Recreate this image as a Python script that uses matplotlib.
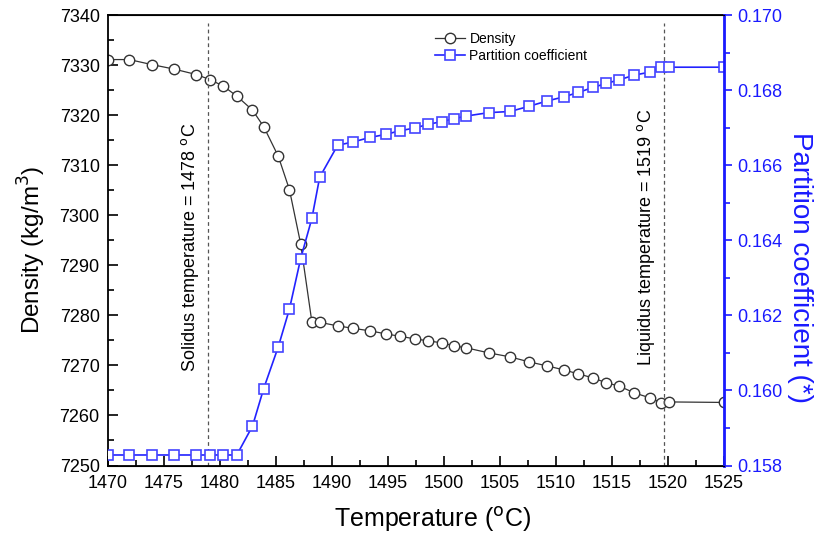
import matplotlib
matplotlib.use("Agg")
import matplotlib.pyplot as plt
from matplotlib.ticker import MultipleLocator, FormatStrFormatter

plt.rcParams['font.family'] = ['Liberation Sans', 'DejaVu Sans']

# temperature of each simulation point (deg C)
temperature = [1470.0, 1471.9, 1473.9, 1475.9, 1477.9, 1479.1, 1480.3, 1481.5,
               1482.9, 1483.9, 1485.2, 1486.2, 1487.2, 1488.2, 1488.9, 1490.5,
               1491.9, 1493.4, 1494.8, 1496.1, 1497.4, 1498.6, 1499.8, 1500.9,
               1502.0, 1504.0, 1505.9, 1507.6, 1509.2, 1510.7, 1512.0, 1513.3,
               1514.5, 1515.6, 1517.0, 1518.4, 1519.4, 1520.1, 1525.0]

density = [7331.1, 7331.1, 7330.1, 7329.2, 7328.1, 7327.1, 7325.8, 7323.8,
           7321.0, 7317.7, 7311.8, 7305.1, 7294.3, 7278.7, 7278.6, 7277.9,
           7277.4, 7276.9, 7276.3, 7275.8, 7275.3, 7274.9, 7274.5, 7273.9,
           7273.5, 7272.5, 7271.7, 7270.7, 7269.9, 7269.1, 7268.3, 7267.5,
           7266.5, 7265.9, 7264.5, 7263.5, 7262.5, 7262.7, 7262.6]

partition = [0.15828, 0.15828, 0.15828, 0.15828, 0.15828, 0.15828, 0.15828, 0.15828,
             0.15905, 0.16005, 0.16116, 0.16217, 0.16351, 0.16458, 0.16568, 0.16653,
             0.16662, 0.16674, 0.16682, 0.16692, 0.16699, 0.16709, 0.16716, 0.16724,
             0.16731, 0.16740, 0.16743, 0.16757, 0.16771, 0.16782, 0.16794, 0.16807,
             0.16818, 0.16827, 0.16840, 0.16848, 0.16861, 0.16861, 0.16861]

solidus_T = 1478.9
liquidus_T = 1519.6

fig = plt.figure(figsize=(8.2, 5.44), dpi=100)
ax = fig.add_axes([0.1317, 0.1443, 0.7513, 0.8281])
ax2 = ax.twinx()

l1, = ax.plot(temperature, density, '-o', color='#333333', lw=0.9,
              mfc='white', mec='#333333', ms=7.5, mew=1.0, label='Density')
l2, = ax2.plot(temperature, partition, '-s', color='#2222ff', lw=1.2,
               mfc='white', mec='#4444ff', ms=7, mew=1.2, label='Partition coefficient')

# solidus / liquidus markers
ax.vlines([solidus_T, liquidus_T], 7250, 7338.5, colors='#555555',
          linestyles=(0, (3, 2.5)), lw=0.9)
ax.text(solidus_T - 1.6, 7293.5, 'Solidus temperature = 1478 $^{\\rm o}$C', rotation=90,
        ha='center', va='center', fontsize=13)
ax.text(liquidus_T - 1.6, 7295.5, 'Liquidus temperature = 1519 $^{\\rm o}$C', rotation=90,
        ha='center', va='center', fontsize=13)

ax.set_xlim(1470, 1525)
ax.set_ylim(7250, 7340)
ax2.set_ylim(0.158, 0.170)

ax.xaxis.set_major_locator(MultipleLocator(5))
ax.xaxis.set_minor_locator(MultipleLocator(2.5))
ax.yaxis.set_major_locator(MultipleLocator(10))
ax.yaxis.set_minor_locator(MultipleLocator(5))
ax2.yaxis.set_major_locator(MultipleLocator(0.002))
ax2.yaxis.set_minor_locator(MultipleLocator(0.001))
ax2.yaxis.set_major_formatter(FormatStrFormatter('%.3f'))

ax.tick_params(axis='both', which='major', direction='in', length=7, width=1.2,
               labelsize=13, top=False, right=False)
ax.tick_params(axis='both', which='minor', direction='in', length=4, width=1.2,
               top=False, right=False)
ax.tick_params(axis='x', pad=7)
ax.tick_params(axis='y', pad=6)
ax2.tick_params(axis='y', which='major', direction='out', length=6, width=1.2,
                colors='#1a1aff', labelsize=13)
ax2.tick_params(axis='y', which='minor', direction='out', length=4, width=1.2,
                colors='#1a1aff')

for side in ['left', 'bottom', 'top']:
    ax.spines[side].set_linewidth(1.3)
ax2.spines['right'].set_color('#1a1aff')
ax2.spines['right'].set_linewidth(2.0)
ax2.spines['left'].set_visible(False)

ax.set_xlabel('Temperature ($^{\\rm o}$C)', fontsize=18, labelpad=9)
ax.set_ylabel('Density (kg/m$^{\\rm 3}$)', fontsize=17.5, labelpad=8)
ax2.set_ylabel('Partition coefficient (*)', fontsize=20, color='#1a1aff',
               rotation=270, labelpad=22)
ax.xaxis.label.set_x(0.526)
ax.yaxis.label.set_y(0.478)
ax2.yaxis.label.set_y(0.44)

ax2.legend([l1, l2], ['Density', 'Partition coefficient'], loc='upper left',
           bbox_to_anchor=(0.51, 0.99), frameon=False, fontsize=10,
           handlelength=2.2, handletextpad=0.3, labelspacing=0.2)

fig.savefig('out.png', dpi=100)
